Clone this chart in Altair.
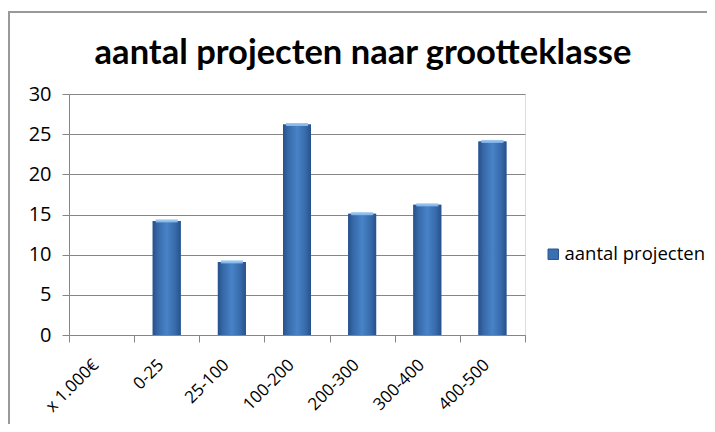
import altair as alt
import pandas as pd

categories = ["x 1.000€", "0-25", "25-100", "100-200", "200-300", "300-400", "400-500"]
values = [0, 14.2, 9.1, 26.2, 15.1, 16.2, 24.1]
series_name = "aantal projecten"
title_text = "aantal projecten naar grootteklasse"
y_ticks = [0, 5, 10, 15, 20, 25, 30]

df = pd.DataFrame({"klasse": categories, "aantal": values, "reeks": [series_name] * len(categories)})

FONT = "Lato"
AXFONT = "Open Sans"
W, H = 456, 241

x_enc = alt.X("klasse:N", sort=categories, title=None,
              scale=alt.Scale(paddingInner=0.0, paddingOuter=0.0),
              axis=alt.Axis(labelAngle=-45, labelAlign="right", labelBaseline="middle",
                            labelFontSize=17, labelFont=AXFONT, labelColor="#000",
                            tickBand="extent", ticks=True, tickSize=7, tickColor="#868686",
                            domainColor="#868686", labelPadding=20, labelOffset=-6, grid=False))
x_plain = alt.X("klasse:N", sort=categories)
y_enc = alt.Y("aantal:Q", title=None,
              scale=alt.Scale(domain=[0, 30], nice=False),
              axis=alt.Axis(values=y_ticks, labelFontSize=20, labelFont=AXFONT, labelColor="#000",
                            tickSize=7, tickColor="#868686", domainColor="#868686",
                            labelPadding=11, grid=True, gridColor="#868686", gridWidth=1))

base = alt.Chart(df)

legend_bars = base.mark_bar(size=28).encode(
    x=x_enc, y=y_enc,
    color=alt.Color("reeks:N", scale=alt.Scale(range=["#3a70b2"]),
                    legend=alt.Legend(title=None, orient="none", legendX=475, legendY=151,
                                      symbolType="square", symbolSize=110,
                                      symbolStrokeColor="#2b578e", symbolStrokeWidth=1,
                                      labelFontSize=18.5, labelFont=AXFONT, labelColor="#000",
                                      labelOffset=2)),
)

grad = alt.Gradient(gradient="linear", x1=0, x2=1, y1=0, y2=0, stops=[
    alt.GradientStop(offset=0, color="#27508a"),
    alt.GradientStop(offset=0.18, color="#3669a8"),
    alt.GradientStop(offset=0.5, color="#4883c8"),
    alt.GradientStop(offset=0.82, color="#3669a8"),
    alt.GradientStop(offset=1, color="#27508a"),
])

grad_bars = base.mark_bar(size=28, fill=grad).encode(x=x_plain, y="aantal:Q")

caps = base.transform_filter(alt.datum.aantal > 0).mark_tick(
    color="#8fc0f0", thickness=3, size=22, opacity=0.9
).encode(x=x_plain, y="aantal:Q")

title = alt.Chart(pd.DataFrame({"t": [title_text]})).mark_text(
    font=FONT, fontSize=34.5, fontWeight="bold", color="#000", align="center", baseline="middle"
).encode(x=alt.value(294), y=alt.value(-40), text="t:N")

border = alt.Chart(pd.DataFrame({"a": [0]})).mark_rect(
    fill="transparent", stroke="#999999", strokeWidth=2
).encode(x=alt.value(-60), x2=alt.value(760), y=alt.value(-82), y2=alt.value(500))

chart = alt.layer(border, legend_bars, grad_bars, caps, title).properties(
    width=W, height=H,
    autosize=alt.AutoSizeParams(type="none"),
    padding={"left": 61, "top": 86, "right": 182, "bottom": 89},
).configure_view(stroke=None).configure(background="white")

chart.save("out.html", embed_options={"renderer": "svg", "actions": False})
